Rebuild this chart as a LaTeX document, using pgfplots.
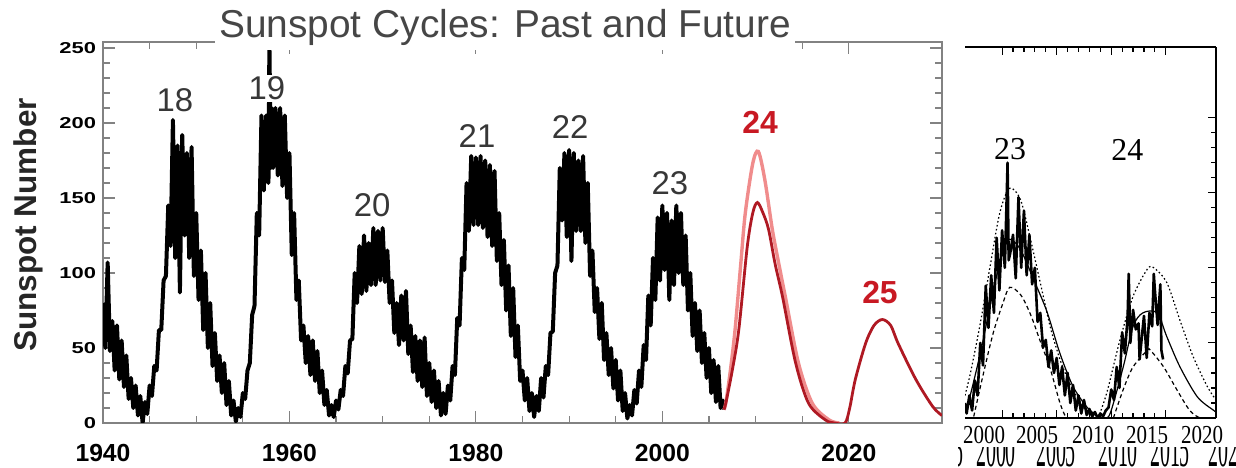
\documentclass[border=0pt]{standalone}
\usepackage{graphicx}
\usepackage{fontspec}
\setmainfont{Liberation Sans}
\newfontfamily\timesfont{Liberation Serif}
\usepackage{pgfplots}
\pgfplotsset{compat=1.18}
\definecolor{pinkline}{RGB}{240,140,140}
\definecolor{darkredline}{RGB}{175,25,35}
\definecolor{labelred}{RGB}{200,25,35}
\definecolor{titlegray}{RGB}{70,70,70}
\definecolor{labelgray}{RGB}{55,55,55}
\definecolor{axisgray}{RGB}{130,130,130}
\begin{document}
\begin{tikzpicture}
\path[use as bounding box] (0,0) rectangle (618bp,234bp);
% ---------------- left chart ----------------
\begin{axis}[
  at={(51.5bp,22.5bp)}, anchor=south west, scale only axis,
  width=419.5bp, height=190.5bp,
  xmin=1940, xmax=2030, ymin=0, ymax=254,
  xtick={1940,1960,1980,2000,2020}, minor x tick num=3,
  ytick={0,50,100,150,200,250}, minor y tick num=4,
  tick align=inside, major tick length=6bp, minor tick length=3.5bp,
  axis line style={axisgray, line width=0.8bp},
  tick style={axisgray, line width=0.6bp},
  /pgf/number format/assume math mode=true,
  xticklabel style={font=\fontsize{12.4}{14}\selectfont\bfseries, /pgf/number format/1000 sep={}, yshift=-7bp},
  yticklabel style={font=\fontsize{11}{13}\selectfont\bfseries},
  yticklabel={\scalebox{1}[0.72]{\pgfmathprintnumber{\tick}}},
  clip mode=individual,
]
\addplot[black, line width=2bp, line join=round] coordinates {
(1940.00,80) (1940.25,50) (1940.50,107) (1940.75,48) (1941.00,68) (1941.25,35) (1941.50,65) (1941.75,29)
(1942.00,55) (1942.25,24) (1942.50,45) (1942.75,16) (1943.00,30) (1943.25,10) (1943.50,25) (1943.75,5)
(1944.00,18) (1944.25,0) (1944.50,14) (1944.75,6) (1945.00,25) (1945.25,18) (1945.50,38) (1945.75,35)
(1946.00,62) (1946.25,62) (1946.50,95) (1946.75,98) (1947.00,145) (1947.25,118) (1947.50,202) (1947.75,110)
(1948.00,185) (1948.25,87) (1948.50,192) (1948.75,125) (1949.00,180) (1949.25,110) (1949.50,184) (1949.75,98)
(1950.00,140) (1950.25,82) (1950.50,115) (1950.75,62) (1951.00,100) (1951.25,50) (1951.50,80) (1951.75,38)
(1952.00,60) (1952.25,28) (1952.50,45) (1952.75,20) (1953.00,40) (1953.25,12) (1953.50,28) (1953.75,5)
(1954.00,15) (1954.25,1) (1954.50,10) (1954.75,4) (1955.00,20) (1955.25,16) (1955.50,35) (1955.75,40)
(1956.00,72) (1956.25,78) (1956.50,140) (1956.75,125) (1957.00,205) (1957.25,155) (1957.50,205) (1957.75,160)
(1957.85,254) (1958.00,170) (1958.10,210) (1958.25,170) (1958.50,210) (1958.75,165) (1959.00,210) (1959.25,158)
(1959.50,205) (1959.75,150) (1960.00,180) (1960.25,112) (1960.50,140) (1960.75,82) (1961.00,95) (1961.25,55)
(1961.50,65) (1961.75,40) (1962.00,58) (1962.25,32) (1962.50,55) (1962.75,28) (1963.00,48) (1963.25,20)
(1963.50,35) (1963.75,12) (1964.00,22) (1964.25,5) (1964.50,12) (1964.75,4) (1965.00,15) (1965.25,9)
(1965.50,22) (1965.75,18) (1966.00,38) (1966.25,33) (1966.50,55) (1966.75,56) (1967.00,100) (1967.25,80)
(1967.50,118) (1967.75,86) (1968.00,125) (1968.25,88) (1968.50,120) (1968.75,92) (1969.00,130) (1969.25,92)
(1969.50,128) (1969.75,95) (1970.00,130) (1970.25,94) (1970.50,115) (1970.75,80) (1971.00,95) (1971.25,60)
(1971.50,80) (1971.75,52) (1972.00,85) (1972.25,55) (1972.50,88) (1972.75,46) (1973.00,65) (1973.25,34)
(1973.50,58) (1973.75,28) (1974.00,55) (1974.25,24) (1974.50,57) (1974.75,18) (1975.00,40) (1975.25,14)
(1975.50,35) (1975.75,10) (1976.00,28) (1976.25,5) (1976.50,20) (1976.75,6) (1977.00,25) (1977.25,15)
(1977.50,38) (1977.75,32) (1978.00,70) (1978.25,65) (1978.50,110) (1978.75,102) (1979.00,160) (1979.25,128)
(1979.50,178) (1979.75,132) (1980.00,177) (1980.25,132) (1980.50,178) (1980.75,130) (1981.00,175) (1981.25,124)
(1981.50,172) (1981.75,118) (1982.00,168) (1982.25,108) (1982.50,140) (1982.75,92) (1983.00,122) (1983.25,75)
(1983.50,105) (1983.75,58) (1984.00,90) (1984.25,44) (1984.50,65) (1984.75,28) (1985.00,35) (1985.25,15)
(1985.50,30) (1985.75,8) (1986.00,20) (1986.25,4) (1986.50,18) (1986.75,8) (1987.00,30) (1987.25,17)
(1987.50,38) (1987.75,32) (1988.00,60) (1988.25,61) (1988.50,100) (1988.75,105) (1989.00,170) (1989.25,135)
(1989.50,180) (1989.75,124) (1990.00,182) (1990.25,108) (1990.50,180) (1990.75,128) (1991.00,175) (1991.25,128)
(1991.50,178) (1991.75,120) (1992.00,160) (1992.25,98) (1992.50,115) (1992.75,74) (1993.00,90) (1993.25,56)
(1993.50,80) (1993.75,42) (1994.00,60) (1994.25,32) (1994.50,50) (1994.75,23) (1995.00,42) (1995.25,15)
(1995.50,35) (1995.75,8) (1996.00,20) (1996.25,3) (1996.50,12) (1996.75,5) (1997.00,22) (1997.25,13)
(1997.50,35) (1997.75,24) (1998.00,52) (1998.25,42) (1998.50,85) (1998.75,65) (1999.00,110) (1999.25,82)
(1999.50,137) (1999.75,95) (2000.00,145) (2000.25,102) (2000.50,140) (2000.75,82) (2001.00,135) (2001.25,92)
(2001.50,145) (2001.75,100) (2002.00,140) (2002.25,92) (2002.50,125) (2002.75,75) (2003.00,100) (2003.25,58)
(2003.50,80) (2003.75,48) (2004.00,75) (2004.25,40) (2004.50,60) (2004.75,30) (2005.00,50) (2005.25,20)
(2005.50,42) (2005.75,14) (2006.00,38) (2006.25,10) (2006.50,15) (2006.60,9)
};
\addplot[pinkline, line width=1.7bp, smooth, tension=0.5] coordinates {
(2006.6,9) (2006.8,13) (2007.3,35) (2007.8,62) (2008.4,105) (2008.9,140) (2009.7,173) (2010.3,181)
(2011.0,162) (2011.8,129) (2012.5,106) (2013.2,84) (2014.6,40) (2016.1,13) (2017.9,2) (2019.0,0)
};
\addplot[darkredline, line width=1.4bp, smooth, tension=0.5] coordinates {
(2006.6,9) (2006.8,13) (2007.5,35) (2008.2,62) (2009.1,117) (2009.7,140) (2010.2,147) (2010.8,140)
(2011.4,129) (2012.1,106) (2012.9,84) (2014.3,40) (2015.7,13) (2017.5,2) (2018.5,0) (2019.6,0)
(2020.1,10) (2020.7,29) (2021.8,53) (2022.7,65) (2023.6,69) (2024.5,65) (2025.3,53) (2027.2,29)
(2029.0,11) (2030.0,5)
};
\node[fill=white, inner sep=1bp, text=labelgray, font=\fontsize{16.5}{18}\selectfont] at (axis cs:1947.72,215) {18};
\node[fill=white, inner sep=1bp, text=labelgray, font=\fontsize{16.5}{18}\selectfont] at (axis cs:1957.59,223) {19};
\node[fill=white, inner sep=1bp, text=labelgray, font=\fontsize{16.5}{18}\selectfont] at (axis cs:1968.86,145) {20};
\node[fill=white, inner sep=1bp, text=labelgray, font=\fontsize{16.5}{18}\selectfont] at (axis cs:1980.12,191) {21};
\node[fill=white, inner sep=1bp, text=labelgray, font=\fontsize{16.5}{18}\selectfont] at (axis cs:1990.10,197) {22};
\node[fill=white, inner sep=1bp, text=labelgray, font=\fontsize{16.5}{18}\selectfont] at (axis cs:2000.82,160) {23};
\node[inner sep=1bp, text=labelred, font=\fontsize{16}{18}\selectfont\bfseries] at (axis cs:2010.5,200.7) {24};
\node[inner sep=1bp, text=labelred, font=\fontsize{16}{18}\selectfont\bfseries] at (axis cs:2023.35,86.7) {25};
\end{axis}
\node[anchor=base, fill=white, inner xsep=2bp, inner ysep=2bp, text=titlegray, font=\fontsize{19.5}{22}\selectfont] at (252.5bp,215bp) {Sunspot Cycles: Past and Future};
\node[rotate=90, text=black!85, font=\fontsize{15.8}{18}\selectfont\bfseries] at (14bp,121.5bp) {Sunspot Number};
% ---------------- right chart ----------------
\begin{axis}[
  at={(482.5bp,25bp)}, anchor=south west, scale only axis,
  width=125.5bp, height=185.5bp,
  xmin=1996.6, xmax=2019.6, ymin=0, ymax=247,
  axis x line=box, axis y line=right,
  axis line style={-, black, line width=1bp},
  y axis line style={-},
  xtick={2000,2005,2010,2015}, minor x tick num=4, xticklabels={},
  ytick={0,50,100,150,200}, minor y tick num=4, yticklabels={},
  tick align=inside, major tick length=4bp, minor tick length=2.5bp,
  tick style={black, line width=0.6bp},
  clip mode=individual,
]
\addplot[black, line width=1.3bp, line join=round] coordinates {
(1996.60,10) (1996.75,3) (1997.00,15) (1997.25,5) (1997.50,25) (1997.75,15) (1998.00,50) (1998.25,35)
(1998.50,88) (1998.75,60) (1999.00,95) (1999.25,70) (1999.50,120) (1999.75,85) (2000.00,125) (2000.25,100)
(2000.50,170) (2000.60,105) (2000.75,110) (2001.00,122) (2001.25,93) (2001.50,147) (2001.75,100) (2002.00,138)
(2002.25,95) (2002.50,122) (2002.75,89) (2003.00,100) (2003.25,64) (2003.50,70) (2003.75,47) (2004.00,52)
(2004.25,34) (2004.50,45) (2004.75,30) (2005.00,40) (2005.25,22) (2005.50,34) (2005.75,15) (2006.00,30)
(2006.25,10) (2006.50,22) (2006.75,5) (2007.00,15) (2007.25,3) (2007.50,12) (2007.75,2) (2008.00,6)
(2008.25,1) (2008.50,4) (2008.75,0) (2009.00,3) (2009.25,1) (2009.50,5) (2009.75,7) (2010.00,19)
(2010.25,12) (2010.50,34) (2010.75,20) (2011.00,57) (2011.25,43) (2011.50,67) (2011.60,96) (2011.75,50)
(2012.00,72) (2012.25,59) (2012.50,63) (2012.60,39) (2012.75,50) (2013.00,68) (2013.25,40) (2013.50,70)
(2013.75,61) (2013.90,96) (2014.00,85) (2014.25,62) (2014.50,89) (2014.60,45) (2014.75,39)
};
\addplot[black, line width=0.6bp, dash pattern=on 0.8bp off 1.2bp, smooth] coordinates {
(1996.6,15) (1997.1,30) (1998.0,63) (1998.9,101) (1999.8,137) (2000.7,153) (2001.7,145) (2002.6,119)
(2003.5,90) (2004.4,61) (2005.3,39) (2006.2,23) (2007.2,10) (2007.9,3) (2008.5,0)
};
\addplot[black, line width=0.6bp, smooth] coordinates {
(1996.6,5) (1996.8,7) (1998.0,43) (1999.2,85) (2000.1,112) (2000.7,119) (2001.7,112) (2002.9,92)
(2004.1,71) (2005.3,43) (2006.5,21) (2007.8,7) (2008.8,1)
};
\addplot[black, line width=0.6bp, dash pattern=on 2bp off 1.5bp, smooth] coordinates {
(1997.4,1) (1998.3,30) (1999.2,57) (2000.1,77) (2000.7,87) (2001.7,82) (2002.6,69) (2003.5,51)
(2004.4,33) (2005.3,10) (2005.8,1)
};
\addplot[black, line width=0.6bp, dash pattern=on 0.8bp off 1.2bp, smooth] coordinates {
(2008.8,0) (2009.6,17) (2010.8,52) (2012.0,81) (2013.3,99) (2013.9,100) (2015.1,90) (2016.3,65)
(2017.5,41) (2018.8,21) (2019.6,12)
};
\addplot[black, line width=0.6bp, smooth] coordinates {
(2009.3,0) (2009.9,3) (2011.1,34) (2012.0,61) (2012.9,70) (2014.2,70) (2015.1,54) (2016.3,34)
(2017.9,14) (2019.4,5) (2019.6,4)
};
\addplot[black, line width=0.6bp, dash pattern=on 2bp off 1.5bp, smooth] coordinates {
(2010.2,0) (2011.1,19) (2012.0,34) (2013.3,45) (2013.6,45) (2014.8,34) (2016.0,19) (2017.2,5)
(2018.2,0) (2019.6,0)
};
\node[font=\timesfont\fontsize{16}{18}\selectfont] at (axis cs:2000.73,178.7) {23};
\node[font=\timesfont\fontsize{16}{18}\selectfont] at (axis cs:2011.47,178.7) {24};
\end{axis}
% second, cut-off row of year labels
\begin{scope}
\clip (479bp,0bp) rectangle (618bp,25bp);
\foreach \xx/\lab in {472/1995,498/2000,528/2005,559/2010,585/2015,614/2020}{
  \node[anchor=base, inner sep=0pt, font=\timesfont\fontsize{26}{28}\selectfont] at (\xx bp,1bp) {\scalebox{0.385}[1]{\lab}};
}
\end{scope}
\fill[white] (479bp,10.5bp) rectangle (618bp,24.4bp);
\foreach \xx/\lab in {492/2000,518.5/2005,546.5/2010,573.5/2015,601/2020}{
  \node[inner sep=0pt, font=\timesfont\fontsize{13}{15}\selectfont] at (\xx bp,16.5bp) {\scalebox{0.81}[1]{\lab}};
}
\end{tikzpicture}
\end{document}
